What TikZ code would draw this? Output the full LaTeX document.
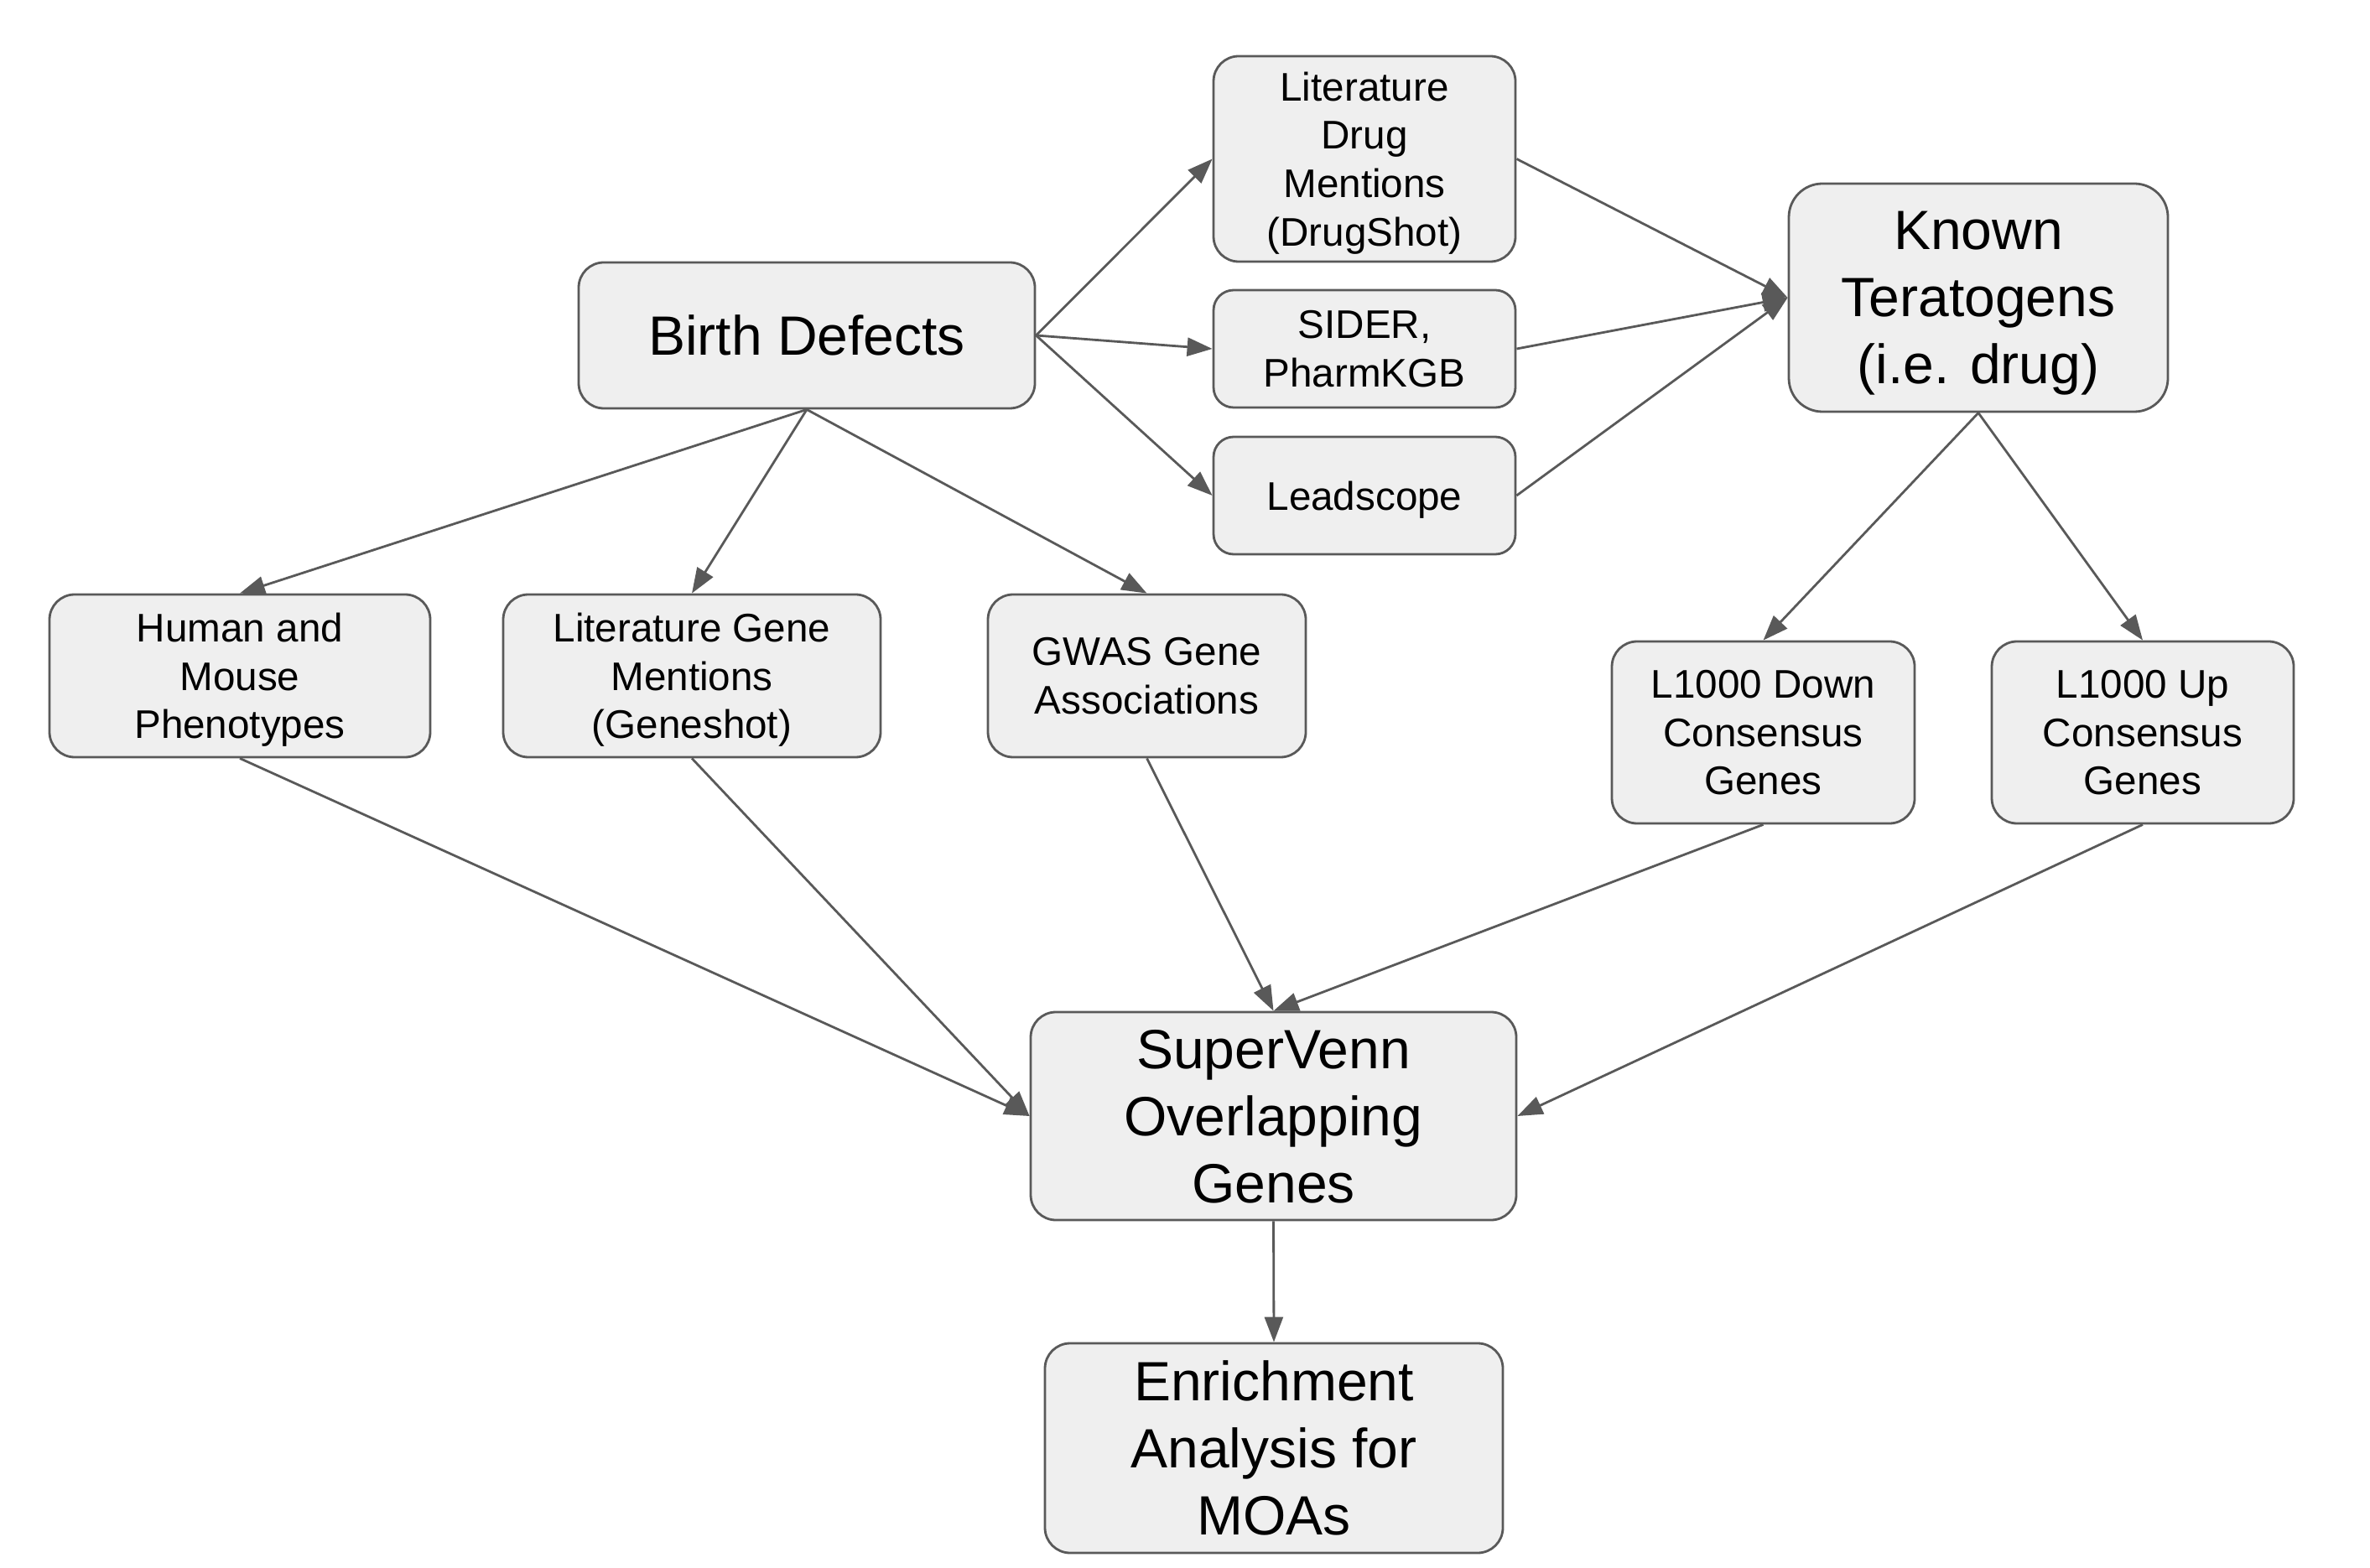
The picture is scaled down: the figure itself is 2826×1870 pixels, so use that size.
\documentclass[tikz,border=0pt]{standalone}
\usepackage{fontspec}
\setmainfont{Liberation Sans}
\usetikzlibrary{arrows.meta}
\definecolor{boxfill}{HTML}{EFEFEF}
\definecolor{edgegray}{HTML}{595959}
\tikzset{
  box/.style={draw=edgegray, fill=boxfill, line width=0.7pt, rounded corners=7.5pt,
    align=center, inner sep=0pt, text=black, text depth=0pt},
  small/.style={font=\fontsize{11.9}{14.4}\selectfont},
  big/.style={font=\fontsize{16.5}{20}\selectfont},
  arr/.style={draw=edgegray, line width=0.7pt, -{Triangle[length=7.5pt,width=5.5pt]}},
}
\begin{document}
\begin{tikzpicture}[x=0.25pt, y=-0.25pt]
\useasboundingbox (0,0) rectangle (2826,1870);
\node[box,big,minimum width=136pt,minimum height=43.5pt] (bd) at (962,400) {Birth Defects};
\node[box,small,minimum width=90pt,minimum height=61.25pt] (ld) at (1627,189.5) {Literature\\Drug\\Mentions\\(DrugShot)};
\node[box,small,minimum width=90pt,minimum height=35pt,rounded corners=6pt] (sider) at (1627,416) {SIDER,\\PharmKGB};
\node[box,small,minimum width=90pt,minimum height=35pt,rounded corners=6pt] (lead) at (1627,591) {Leadscope};
\node[box,big,minimum width=113pt,minimum height=68pt,rounded corners=10pt] (kt) at (2359,355) {Known\\Teratogens\\(i.e. drug)};
\node[box,small,minimum width=113.5pt,minimum height=48.5pt] (hm) at (286,806) {Human and\\Mouse\\Phenotypes};
\node[box,small,minimum width=112.5pt,minimum height=48.5pt] (lg) at (825,806) {Literature Gene\\Mentions\\(Geneshot)};
\node[box,small,minimum width=94.75pt,minimum height=48.5pt] (gwas) at (1367.5,806) {GWAS Gene\\Associations};
\node[box,small,minimum width=90.25pt,minimum height=54.25pt] (l1d) at (2102.5,873.5) {L1000 Down\\Consensus\\Genes};
\node[box,small,minimum width=90pt,minimum height=54.25pt] (l1u) at (2555,873.5) {L1000 Up\\Consensus\\Genes};
\node[box,big,minimum width=144.75pt,minimum height=62pt] (sv) at (1518.5,1331) {SuperVenn\\Overlapping\\Genes};
\node[box,big,minimum width=136.5pt,minimum height=62.5pt] (en) at (1519,1727) {Enrichment\\Analysis for\\MOAs};

\draw[arr] (bd.east) -- (ld.west);
\draw[arr] (bd.east) -- (sider.west);
\draw[arr] (bd.east) -- (lead.west);
\draw[arr] (ld.east) -- (kt.west);
\draw[arr] (sider.east) -- (kt.west);
\draw[arr] (lead.east) -- (kt.west);
\draw[arr] (bd.south) -- (hm.north);
\draw[arr] (bd.south) -- (lg.north);
\draw[arr] (bd.south) -- (gwas.north);
\draw[arr] (kt.south) -- (l1d.north);
\draw[arr] (kt.south) -- (l1u.north);
\draw[arr] (hm.south) -- (sv.west);
\draw[arr] (lg.south) -- (sv.west);
\draw[arr] (gwas.south) -- (sv.north);
\draw[arr] (l1d.south) -- (sv.north);
\draw[arr] (l1u.south) -- (sv.east);
\draw[arr] (sv.south) -- (en.north);
\end{tikzpicture}
\end{document}
